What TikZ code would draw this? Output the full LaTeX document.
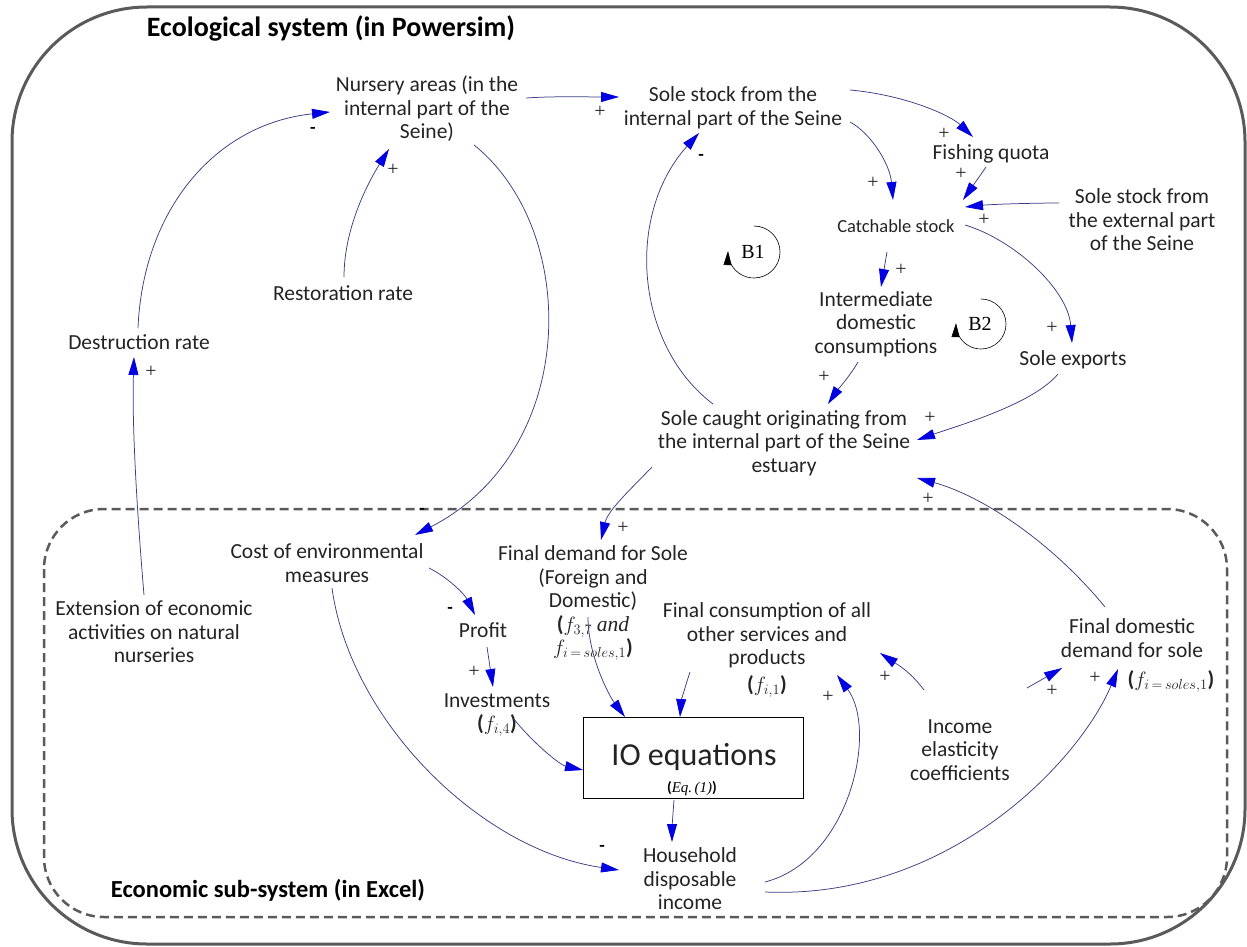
\documentclass[tikz,border=0pt]{standalone}
\usepackage{fontspec}
\setmainfont{Carlito}
\newfontfamily\seriffam{Liberation Serif}
\usetikzlibrary{arrows.meta,calc}
\definecolor{linecol}{RGB}{60,60,130}
\definecolor{tipcol}{RGB}{0,0,225}
\definecolor{framecol}{RGB}{90,90,90}
\definecolor{txtcol}{RGB}{35,35,35}
\tikzset{
  txt/.style={align=center, inner sep=0pt, text=txtcol, font=\fontsize{21.5}{23.5}\selectfont},
  smalltxt/.style={align=center, inner sep=0pt, text=txtcol, font=\fontsize{18.5}{20}\selectfont},
  headtxt/.style={inner sep=0pt, text=black, font=\bfseries\fontsize{28}{30}\selectfont},
  subhead/.style={inner sep=0pt, text=black, font=\bfseries\fontsize{24.5}{26}\selectfont},
  sgn/.style={inner sep=0pt, text=txtcol, font=\seriffam\fontsize{20}{20}\selectfont},
  mns/.style={inner sep=0pt, text=black, font=\bfseries\fontsize{18}{18}\selectfont},
  lk/.style={draw=linecol, line width=0.75pt, -{Triangle[length=18pt,width=10pt,color=tipcol]}},
  loopc/.style={draw=black, line width=0.6pt, -{Triangle[length=14pt,width=8pt,color=black]}},
  looptxt/.style={inner sep=0pt, font=\seriffam\fontsize{20}{20}\selectfont},
}
\begin{document}
\begin{tikzpicture}[x=1pt,y=-1pt]
\useasboundingbox (0,0) rectangle (1247,947);
% frames
\draw[framecol, line width=3pt, rounded corners=135pt] (12,7) rectangle (1245,944);
\draw[framecol, line width=2.5pt, dash pattern=on 9pt off 5pt, rounded corners=60pt] (44,509) rectangle (1227,917);

% titles
\node[headtxt] (title) at (331,28) {Ecological system (in Powersim)};
\node[subhead] (econ) at (268,890) {Economic sub-system (in Excel)};

% nodes
\node[txt] (nursery) at (427,109) {Nursery areas (in the\\internal part of the\\Seine)};
\node[txt] (soleint) at (733,108) {Sole stock from the\\internal part of the Seine};
\node[txt] (fishing) at (991,154) {Fishing quota};
\node[smalltxt] (catch) at (896,226) {Catchable stock};
\node[txt] (external) at (1142,220) {Sole stock from\\the external part\\of the Seine};
\node[txt] (restor) at (343,293) {Restoration rate};
\node[txt] (destr) at (139,342) {Destruction rate};
\node[txt] (interm) at (876,324) {Intermediate\\domestic\\consumptions};
\node[txt] (exports) at (1073,360) {Sole exports};
\node[txt] (caught) at (784,443) {Sole caught originating from\\the internal part of the Seine\\estuary};
\node[txt] (extension) at (154,632) {Extension of economic\\activities on natural\\nurseries};
\node[txt] (cost) at (327,563) {Cost of environmental\\measures};
\node[txt] (fdem) at (593,603) {Final demand for Sole\\(Foreign and\\Domestic)\\{\bfseries(}$f_{3,7}$ {\seriffam\itshape and}\\$f_{i\,=\,soles,1}${\bfseries)}};
\node[txt] (profit) at (483,630) {Profit};
\node[txt] (invest) at (497,715) {Investments\\{\bfseries(}$f_{i,4}${\bfseries)}};
\node[txt] (fcons) at (767,650) {Final consumption of all\\other services and\\products\\[3pt]{\bfseries(}$f_{i,1}${\bfseries)}};
\node[draw=black, line width=0.8pt, minimum width=220pt, minimum height=81pt, inner sep=0pt] (io) at (693,757.5) {};
\node[inner sep=0pt, font=\fontsize{32}{34}\selectfont, text=txtcol] (iotxt) at (694,757) {IO equations};
\node[inner sep=0pt, font=\fontsize{15}{16}\selectfont] (eqtxt) at (692,789) {{\bfseries(}{\seriffam\itshape Eq.\,(1)}{\bfseries)}};
\node[txt] (house) at (690,879) {Household\\disposable\\income};
\node[txt] (elast) at (960,750) {Income\\elasticity\\coefficients};
\node[txt] (fdd) at (1132,638) {Final domestic\\demand for sole};
\node[txt] (fddf) at (1171,681) {{\bfseries(}$f_{i\,=\,soles,1}${\bfseries)}};

% loops
\node[looptxt] (b1) at (753,252) {B1};
\draw[loopc] ($(b1)+(1,-26)$) arc[start angle=-90, end angle=182, radius=26];
\node[looptxt] (b2) at (980,324) {B2};
\draw[loopc] ($(b2)+(1,-25)$) arc[start angle=-90, end angle=182, radius=25];

% connectors
\draw[lk] ($(nursery)+(99,-11)$) .. controls +(30,-2) and +(-30,0) .. ($(soleint)+(-114,-11)$);
\draw[lk] ($(destr)+(-1,-14)$) .. controls +(5,-118) and +(-115,12) .. ($(nursery)+(-97,3)$);
\draw[lk] ($(restor)+(1,-16)$) .. controls +(0,-50) and +(-20,32) .. ($(nursery)+(-38,40)$);
\draw[lk] ($(nursery)+(47,36)$) .. controls +(106,85) and +(165,-85) .. ($(cost)+(88,-28)$);
\draw[lk] ($(extension)+(-10,-37)$) .. controls +(-8,-95) and +(-2,63) .. ($(destr)+(-5,15)$);
\draw[lk] ($(soleint)+(117,-18)$) .. controls +(55,5) and +(-23,-22) .. ($(fishing)+(-18,-17)$);
\draw[lk] ($(fishing)+(-5,13)$) -- ($(catch)+(67,-26)$);
\draw[lk] ($(external)+(-83,-17)$) .. controls +(-20,0) and +(30,-3) .. ($(catch)+(69,-19)$);
\draw[lk] ($(soleint)+(117,14)$) .. controls +(22,12) and +(-3,-35) .. ($(catch)+(-3,-26)$);
\draw[lk] ($(catch)+(-9,26)$) -- ($(interm)+(5,-37)$);
\draw[lk] ($(catch)+(69,-1)$) .. controls +(50,15) and +(-4,-53) .. ($(exports)+(-1,-17)$);
\draw[lk] ($(interm)+(-18,38)$) .. controls +(-8,14) and +(8,-12) .. ($(caught)+(44,-39)$);
\draw[lk] ($(exports)+(-15,14)$) .. controls +(-25,30) and +(43,-15) .. ($(caught)+(133,-3)$);
\draw[lk] ($(caught)+(-71,-39)$) .. controls +(-78,-59) and +(-74,82) .. ($(soleint)+(-34,25)$);
\draw[lk] ($(caught)+(-132,24)$) .. controls +(-22,23) and +(7,-30) .. ($(fdem)+(8,-63)$);
\draw[lk] ($(fdd)+(-27,-31)$) .. controls +(-55,-67) and +(63,17) .. ($(caught)+(133,35)$);
\draw[lk] ($(cost)+(102,5)$) .. controls +(20,10) and +(-10,-20) .. ($(profit)+(-8,-15)$);
\draw[lk] ($(profit)+(4,17)$) -- ($(invest)+(-4,-28)$);
\draw[lk] ($(invest)+(16,3)$) .. controls +(20,25) and +(-23,-5) .. ($(io)+(-110,12.5)$);
\draw[lk] ($(fdem)+(-5,14)$) .. controls +(0,40) and +(-15,-20) .. ($(io)+(-68,-40.5)$);
\draw[lk] ($(fcons)+(-77,22)$) .. controls +(-5,15) and +(1,-15) .. ($(io)+(-13,-40.5)$);
\draw[lk] ($(io)+(-19,42.5)$) .. controls +(-1,12) and +(0,-12) .. ($(house)+(-18,-37)$);
\draw[lk] ($(cost)+(5,25)$) .. controls +(18,132) and +(-139,-20) .. ($(house)+(-71,-9)$);
\draw[lk] ($(house)+(75,3)$) .. controls +(85,-22) and +(41,55) .. ($(fcons)+(70,25)$);
\draw[lk] ($(house)+(75,13)$) .. controls +(185,8) and +(-38,91) .. ($(fdd)+(-14,31)$);
\draw[lk] ($(elast)+(-36,-60)$) .. controls +(-15,-20) and +(15,10) .. ($(fcons)+(113,3)$);
\draw[lk] ($(elast)+(67,-62)$) -- ($(fdd)+(-70,30)$);

% polarity signs
\node[sgn] (s1) at (600,112) {+};
\node[mns] (s2) at (313,130) {-};
\node[sgn] (s3) at (393,170) {+};
\node[mns] (s4) at (422,511) {-};
\node[sgn] (s5) at (151,372) {+};
\node[sgn] (s6) at (944,134) {+};
\node[sgn] (s7) at (961,174) {+};
\node[sgn] (s8) at (984,220) {+};
\node[sgn] (s9) at (873,183) {+};
\node[sgn] (s10) at (901,270) {+};
\node[sgn] (s11) at (1052,328) {+};
\node[sgn] (s12) at (824,377) {+};
\node[sgn] (s13) at (930,418) {+};
\node[mns] (s14) at (701,157) {-};
\node[sgn] (s15) at (623,528) {+};
\node[sgn] (s16) at (928,499) {+};
\node[mns] (s17) at (450,610) {-};
\node[sgn] (s18) at (474,672) {+};
\node[mns] (s19) at (602,848) {-};
\node[sgn] (s20) at (828,697) {+};
\node[sgn] (s21) at (1095,678) {+};
\node[sgn] (s22) at (885,677) {+};
\node[sgn] (s23) at (1052,691) {+};
\end{tikzpicture}
\end{document}
